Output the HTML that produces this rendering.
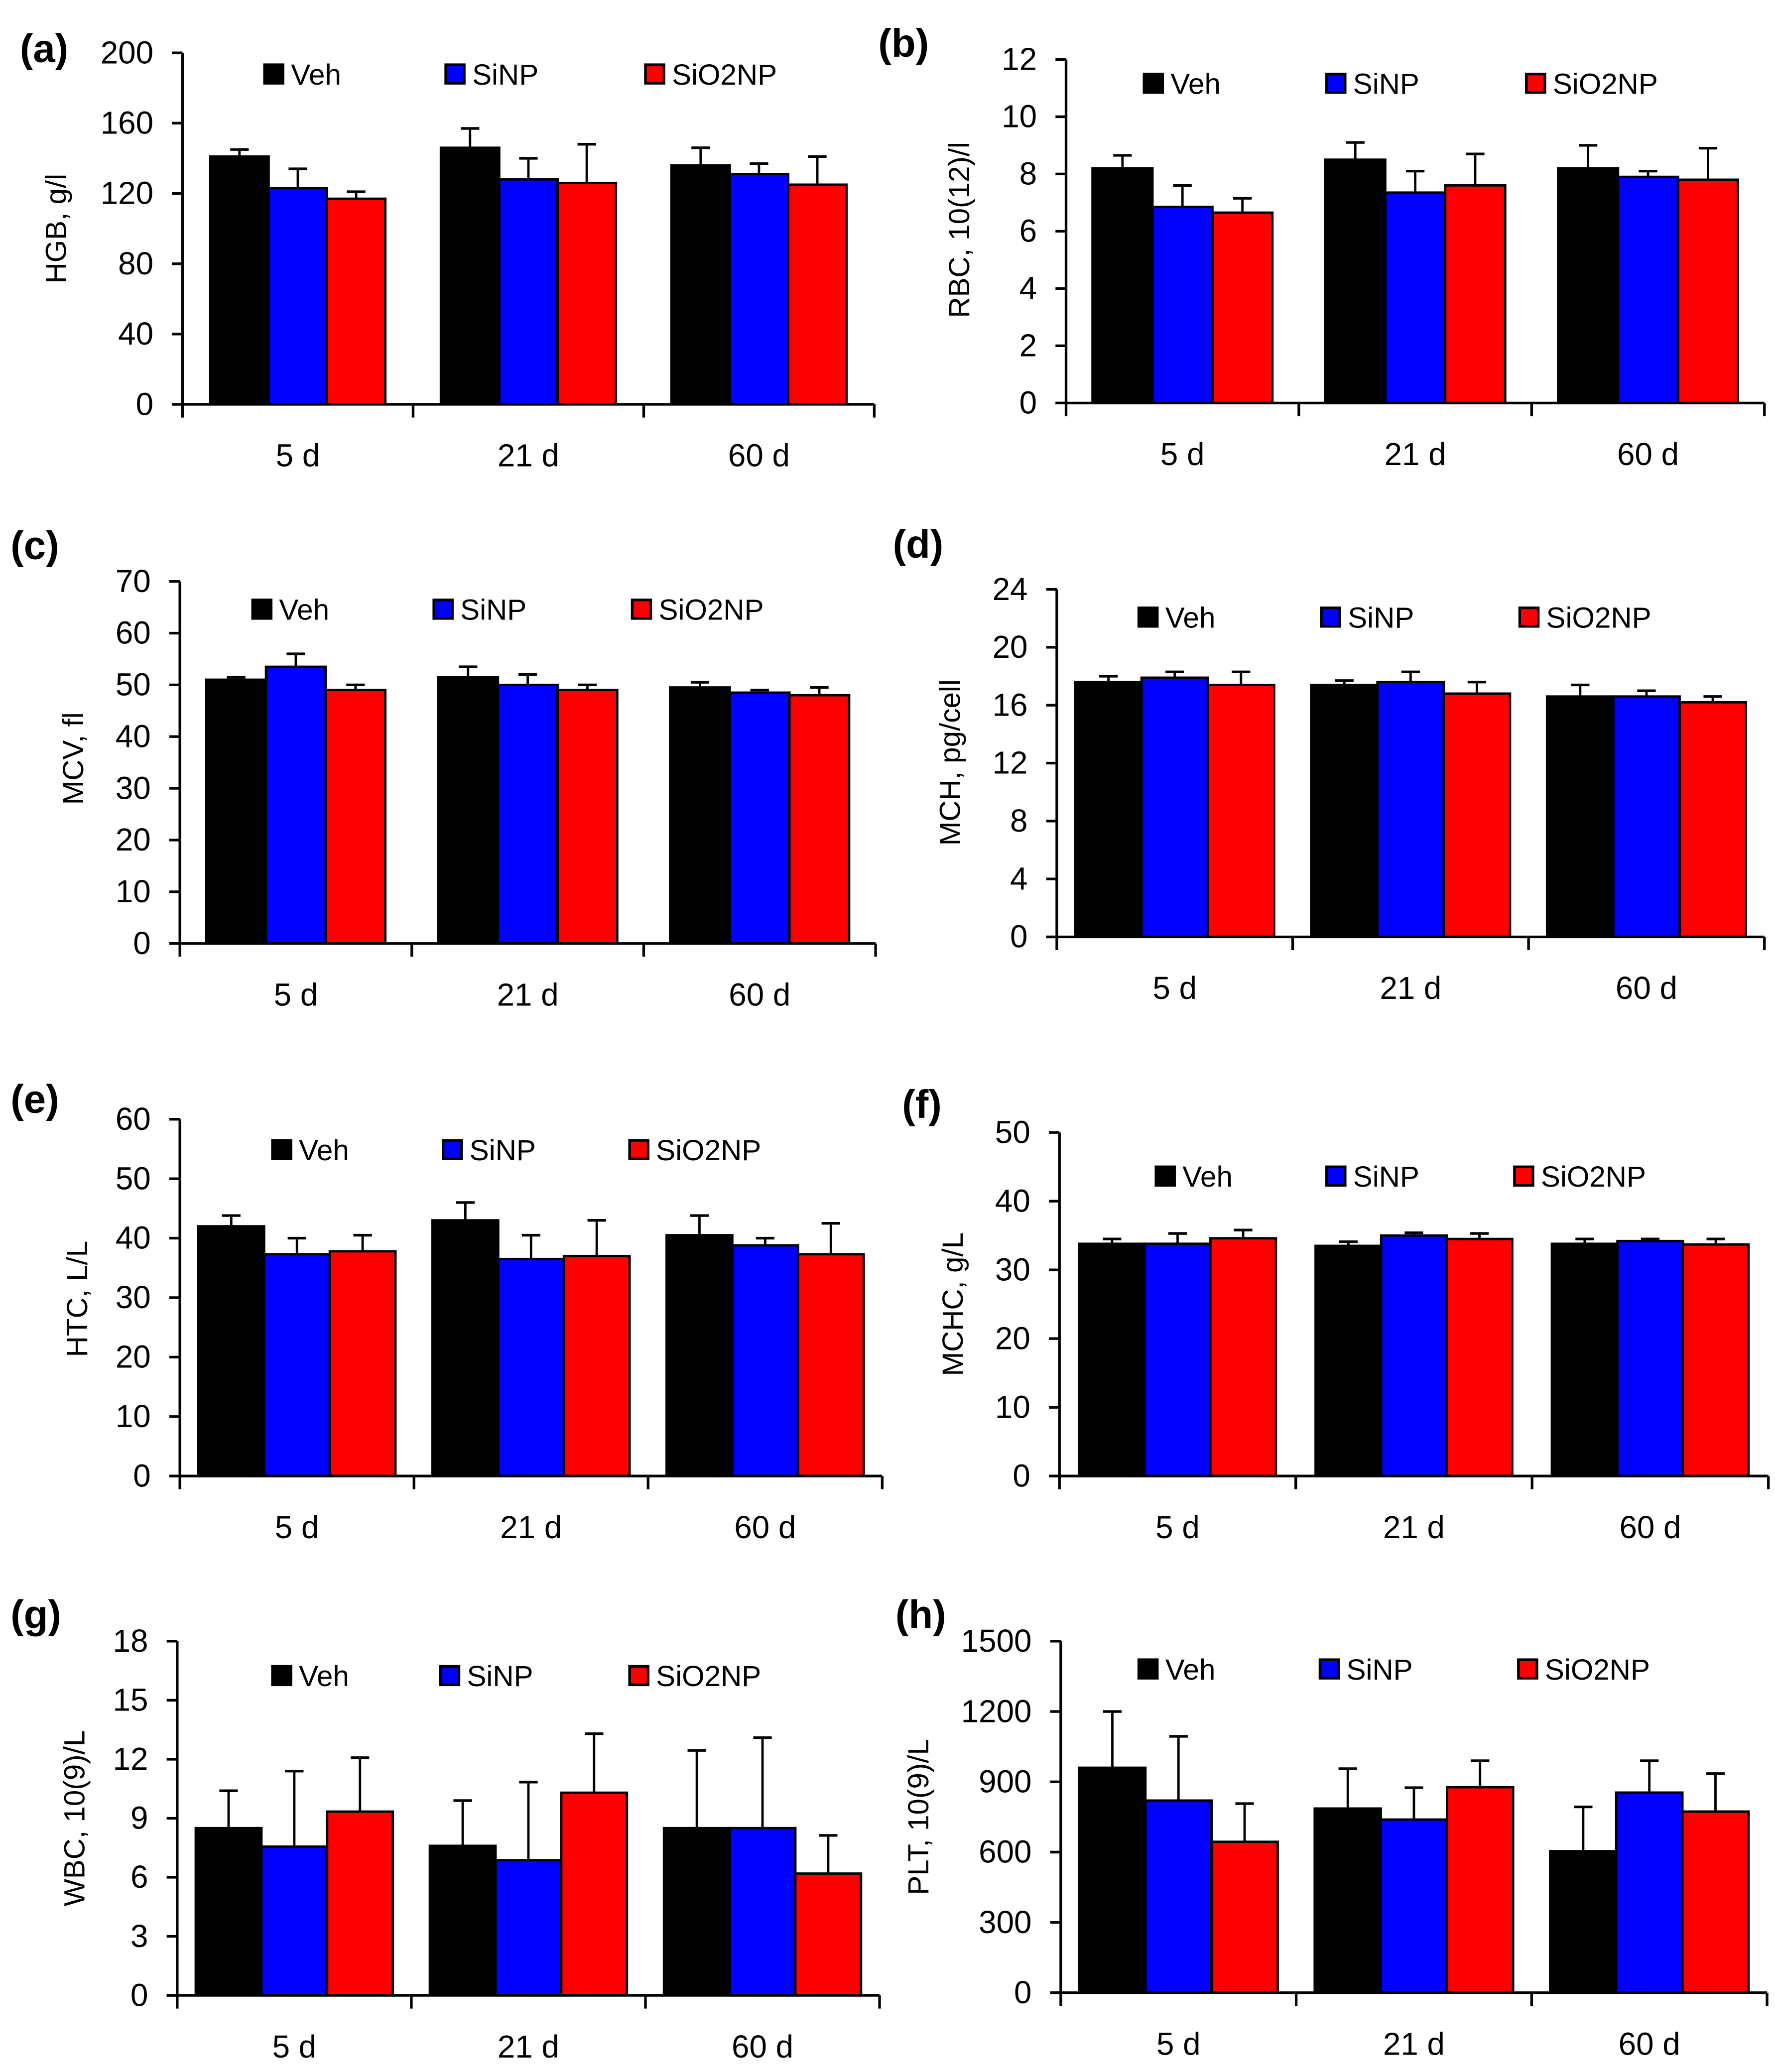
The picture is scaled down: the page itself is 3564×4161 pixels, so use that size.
<!DOCTYPE html>
<html><head><meta charset="utf-8">
<style>
html,body{margin:0;padding:0;background:#fff;}
svg{display:block;}
text{font-family:"Liberation Sans",Arial,sans-serif;fill:#000;}
</style></head>
<body>
<svg id="fig" xmlns="http://www.w3.org/2000/svg" width="3564" height="4161" viewBox="0 0 1342 1568" preserveAspectRatio="none">
<rect x="0" y="0" width="1342" height="1568" fill="#fff"/>
</svg>
<script>
// ---- shared data ----
const categories = ['5 d', '21 d', '60 d'];
const seriesNames = ['Veh', 'SiNP', 'SiO2NP'];
const seriesColors = ['#000000', '#0000ff', '#ff0000'];

// (a) HGB
const hgbVeh = [141, 146, 136];
const hgbVehTop = [145, 157, 146];
const hgbSiNP = [123, 128, 131];
const hgbSiNPTop = [134, 140, 137];
const hgbSiO2 = [117, 126, 125];
const hgbSiO2Top = [121, 148, 141];
const hgbTicks = [0, 40, 80, 120, 160, 200];
// (b) RBC
const rbcVeh = [8.2, 8.5, 8.2];
const rbcVehTop = [8.65, 9.1, 9.0];
const rbcSiNP = [6.85, 7.35, 7.9];
const rbcSiNPTop = [7.6, 8.1, 8.1];
const rbcSiO2 = [6.65, 7.6, 7.8];
const rbcSiO2Top = [7.15, 8.7, 8.9];
const rbcTicks = [0, 2, 4, 6, 8, 10, 12];
// (c) MCV
const mcvVeh = [51, 51.5, 49.5];
const mcvVehTop = [51.5, 53.5, 50.5];
const mcvSiNP = [53.5, 50, 48.5];
const mcvSiNPTop = [56, 52, 49];
const mcvSiO2 = [49, 49, 48];
const mcvSiO2Top = [50, 50, 49.5];
const mcvTicks = [0, 10, 20, 30, 40, 50, 60, 70];
// (d) MCH
const mchVeh = [17.6, 17.4, 16.6];
const mchVehTop = [18, 17.7, 17.4];
const mchSiNP = [17.9, 17.6, 16.6];
const mchSiNPTop = [18.3, 18.3, 17.0];
const mchSiO2 = [17.4, 16.8, 16.2];
const mchSiO2Top = [18.3, 17.6, 16.6];
const mchTicks = [0, 4, 8, 12, 16, 20, 24];
// (e) HTC
const htcVeh = [42, 43, 40.5];
const htcVehTop = [43.8, 46, 43.8];
const htcSiNP = [37.3, 36.5, 38.8];
const htcSiNPTop = [40, 40.5, 40];
const htcSiO2 = [37.8, 37, 37.3];
const htcSiO2Top = [40.5, 43, 42.5];
const htcTicks = [0, 10, 20, 30, 40, 50, 60];
// (f) MCHC
const mchcVeh = [33.8, 33.5, 33.8];
const mchcVehTop = [34.5, 34.1, 34.5];
const mchcSiNP = [33.8, 35.0, 34.2];
const mchcSiNPTop = [35.3, 35.4, 34.5];
const mchcSiO2 = [34.6, 34.5, 33.7];
const mchcSiO2Top = [35.8, 35.3, 34.5];
const mchcTicks = [0, 10, 20, 30, 40, 50];
// (g) WBC
const wbcVeh = [8.5, 7.6, 8.5];
const wbcVehTop = [10.4, 9.9, 12.45];
const wbcSiNP = [7.56, 6.87, 8.5];
const wbcSiNPTop = [11.4, 10.84, 13.1];
const wbcSiO2 = [9.34, 10.3, 6.19];
const wbcSiO2Top = [12.08, 13.3, 8.13];
const wbcTicks = [0, 3, 6, 9, 12, 15, 18];
// (h) PLT
const pltVeh = [960, 786, 604];
const pltVehTop = [1200, 956, 793];
const pltSiNP = [820, 739, 854];
const pltSiNPTop = [1094, 875, 990];
const pltSiO2 = [644, 877, 773];
const pltSiO2Top = [807, 990, 935];
const pltTicks = [0, 300, 600, 900, 1200, 1500];

// ---- layout (pixel geometry, not data) ----
const panels = [
 {id:'a', title:'HGB, g/l', x0:138, x1:661, yT:40, yB:306, pad:21, lab:[15,47], ty:[44,173], lg:[200,56], lgo:[137,288],
  means:[hgbVeh,hgbSiNP,hgbSiO2], tops:[hgbVehTop,hgbSiNPTop,hgbSiO2Top], ticks:hgbTicks},
 {id:'b', title:'RBC, 10(12)/l', x0:806, x1:1334, yT:45, yB:305, pad:20, lab:[664,43], ty:[727,174], lg:[865,63], lgo:[138,289],
  means:[rbcVeh,rbcSiNP,rbcSiO2], tops:[rbcVehTop,rbcSiNPTop,rbcSiO2Top], ticks:rbcTicks},
 {id:'c', title:'MCV, fl', x0:136, x1:662, yT:440, yB:714, pad:20, lab:[8,423], ty:[57,574], lg:[191,461], lgo:[137,287],
  means:[mcvVeh,mcvSiNP,mcvSiO2], tops:[mcvVehTop,mcvSiNPTop,mcvSiO2Top], ticks:mcvTicks},
 {id:'d', title:'MCH, pg/cell', x0:799, x1:1334, yT:446, yB:709, pad:14, lab:[675,422], ty:[720,577], lg:[861,467], lgo:[138,288],
  means:[mchVeh,mchSiNP,mchSiO2], tops:[mchVehTop,mchSiNPTop,mchSiO2Top], ticks:mchTicks},
 {id:'e', title:'HTC, L/L', x0:136, x1:667, yT:847, yB:1117, pad:14, lab:[8,842], ty:[60,983], lg:[206,870], lgo:[129,270],
  means:[htcVeh,htcSiNP,htcSiO2], tops:[htcVehTop,htcSiNPTop,htcSiO2Top], ticks:htcTicks},
 {id:'f', title:'MCHC, g/L', x0:801, x1:1337, yT:857, yB:1117, pad:15, lab:[682,846], ty:[722,987], lg:[874,890], lgo:[129,271],
  means:[mchcVeh,mchcSiNP,mchcSiO2], tops:[mchcVehTop,mchcSiNPTop,mchcSiO2Top], ticks:mchcTicks},
 {id:'g', title:'WBC, 10(9)/L', x0:134, x1:665, yT:1242, yB:1510, pad:14, lab:[8,1232], ty:[58,1376], lg:[206,1268], lgo:[127,270],
  means:[wbcVeh,wbcSiNP,wbcSiO2], tops:[wbcVehTop,wbcSiNPTop,wbcSiO2Top], ticks:wbcTicks},
 {id:'h', title:'PLT, 10(9)/L', x0:802, x1:1336, yT:1242, yB:1508, pad:14, lab:[677,1232], ty:[696,1375], lg:[861,1263], lgo:[137,287],
  means:[pltVeh,pltSiNP,pltSiO2], tops:[pltVehTop,pltSiNPTop,pltSiO2Top], ticks:pltTicks}
];

const NS = 'http://www.w3.org/2000/svg';
const svg = document.getElementById('fig');
function mk(tag, attrs, parent){
  const e = document.createElementNS(NS, tag);
  for (const k in attrs) e.setAttribute(k, attrs[k]);
  parent.appendChild(e);
  return e;
}

panels.forEach(p => {
  const g = mk('g', {}, svg);
  
  
  const maxV = p.ticks[p.ticks.length - 1];
  const yS = v => p.yB - (v / maxV) * (p.yB - p.yT);
  const catW = (p.x1 - p.x0) / categories.length;
  const bw = (catW - 2 * p.pad) / seriesNames.length;
  const xS = (ci, si) => p.x0 + ci * catW + p.pad + si * bw;

  // panel label
  const lab = mk('text', {x:p.lab[0], y:p.lab[1], 'font-size':30, 'font-weight':'bold'}, g);
  lab.textContent = '(' + p.id + ')';
  
  

  // y title
  const yt = mk('text', {x:p.ty[0], y:p.ty[1], 'font-size':22, 'text-anchor':'middle',
    transform:'rotate(-90 ' + p.ty[0] + ' ' + p.ty[1] + ')', 'dominant-baseline':'middle'}, g);
  yt.textContent = p.title;
  
  

  // bars + error bars
  p.means.forEach((arr, si) => {
    arr.forEach((v, ci) => {
      const x = xS(ci, si);
      const top = p.tops[si][ci];
      const cx = x + bw / 2;
      const el = mk('line', {x1:cx, x2:cx, y1:yS(v), y2:yS(top), stroke:'#000', 'stroke-width':1.8}, g);
      
      
      const cap = mk('line', {x1:cx - 7, x2:cx + 7, y1:yS(top), y2:yS(top), stroke:'#000', 'stroke-width':2}, g);
      
      
      const r = mk('rect', {x:x, y:yS(v), width:bw, height:p.yB - yS(v), fill:seriesColors[si], stroke:'#000', 'stroke-width':1.8}, g);
      
      
    });
  });

  // y axis
  const ya = mk('line', {x1:p.x0, x2:p.x0, y1:p.yT, y2:p.yB, stroke:'#000', 'stroke-width':2}, g);
  
  
  p.ticks.forEach(t => {
    const y = yS(t);
    const tk = mk('line', {x1:p.x0 - 8, x2:p.x0, y1:y, y2:y, stroke:'#000', 'stroke-width':2}, g);
    
    
    const tl = mk('text', {x:p.x0 - 22, y:y + 8, 'font-size':24, 'text-anchor':'end'}, g);
    tl.textContent = t;
    
    
  });

  // x axis
  const xa = mk('line', {x1:p.x0 - 8, x2:p.x1, y1:p.yB, y2:p.yB, stroke:'#000', 'stroke-width':2}, g);
  
  
  for (let i = 0; i <= categories.length; i++) {
    const x = p.x0 + i * catW;
    const tk = mk('line', {x1:x, x2:x, y1:p.yB, y2:p.yB + 10, stroke:'#000', 'stroke-width':2}, g);
    
    
  }
  categories.forEach((c, ci) => {
    const t = mk('text', {x:p.x0 + (ci + 0.5) * catW, y:p.yB + 47, 'font-size':24, 'text-anchor':'middle'}, g);
    t.textContent = c;
    
    
  });

  // legend
  seriesNames.forEach((n, si) => {
    const lx = p.lg[0] + (si === 0 ? 0 : p.lgo[si - 1]);
    const ly = p.lg[1];
    const sq = mk('rect', {x:lx, y:ly - 7, width:14, height:14, fill:seriesColors[si], stroke:'#000', 'stroke-width':2}, g);
    
    
    const t = mk('text', {x:lx + 20, y:ly + 8, 'font-size':22}, g);
    t.textContent = n;
    
    
  });
});
</script>
</body></html>
